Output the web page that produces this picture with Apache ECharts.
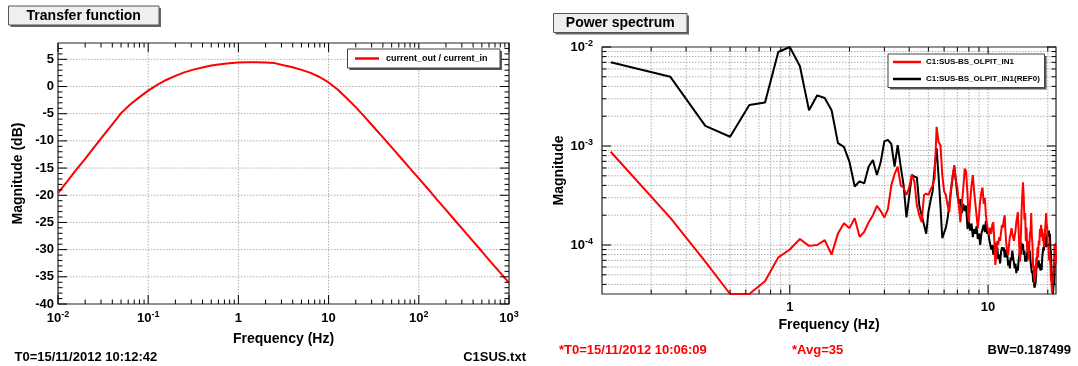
<!DOCTYPE html>
<html><head><meta charset="utf-8">
<script src="https://cdn.jsdelivr.net/npm/echarts@6/dist/echarts.min.js"></script>
<style>html,body{margin:0;padding:0;background:#fff}#c{width:1078px;height:366px}</style>
</head><body><div id="c"></div>
<script>
// ---------- Data ----------
const tfFreq = [0.01, 0.0126, 0.0158, 0.02, 0.0251, 0.0316, 0.0398, 0.0501, 0.0631, 0.0794,
 0.1, 0.126, 0.158, 0.2, 0.251, 0.316, 0.398, 0.501, 0.631, 0.794,
 1, 1.26, 1.58, 2, 2.51, 3.16, 3.98, 5.01, 6.31, 7.94,
 10, 12.6, 15.8, 20, 25.1, 31.6, 39.8, 50.1, 63.1, 79.4,
 100, 126, 158, 200, 251, 316, 398, 501, 631, 794, 1000];
const tfMag = [-19.6, -17.5, -15.4, -13.3, -11.2, -9.1, -7.0, -4.9, -3.3, -2.0,
 -0.75, 0.3, 1.2, 1.95, 2.6, 3.1, 3.5, 3.85, 4.1, 4.28,
 4.4, 4.45, 4.45, 4.4, 4.3, 3.9, 3.55, 3.05, 2.5, 1.75,
 0.75, -0.55, -2.1, -3.8, -5.6, -7.45, -9.3, -11.2, -13.1, -15.0,
 -16.9, -18.8, -20.75, -22.7, -24.6, -26.5, -28.45, -30.35, -32.3, -34.2, -36.1];

const binWidth = 0.125; // spectrum frequency resolution (Hz), bins start at 1*binWidth
const psdRed = [8.75e-4, 1.88e-4, 6.8e-5, 3.2e-5, 3.2e-5, 4.3e-5, 7.5e-5, 9.0e-5, 1.15e-4, 9.8e-5,
 1.0e-4, 1.12e-4, 8.0e-5, 1.31e-4, 1.66e-4, 1.48e-4, 1.86e-4, 1.21e-4, 1.36e-4, 1.7e-4,
 2.0e-4, 2.48e-4, 2.2e-4, 1.9e-4, 2.3e-4, 4.0e-4, 5.2e-4, 6.2e-4, 4.0e-4, 3.8e-4,
 3.2e-4, 3.8e-4, 5.1e-4, 4.4e-4, 2.5e-4, 2.0e-4, 1.7e-4, 3.2e-4, 3.3e-4, 3.2e-4,
 3.6e-4, 4.0e-4, 4.7e-4, 1.56e-3, 1.1e-3, 1.02e-3, 5.1e-4, 3.5e-4, 3.2e-4, 2.5e-4,
 2.15e-4, 3.8e-4, 5.0e-4, 6.4e-4, 4.5e-4, 3.8e-4, 2.5e-4, 1.7e-4, 2.6e-4, 3.8e-4,
 5.9e-4, 5.5e-4, 3.2e-4, 1.7e-4, 2.8e-4, 4.0e-4, 5.1e-4, 3.5e-4, 2.6e-4, 2.5e-4,
 1.48e-4, 2.0e-4, 2.8e-4, 3.4e-4, 3.8e-4, 2.6e-4, 3.0e-4, 2.0e-4, 1.6e-4, 1.4e-4,
 1.26e-4, 1.5e-4, 1.3e-4, 1.6e-4, 1.7e-4, 1.1e-4, 6.3e-5, 8.0e-5, 1.1e-4, 1.0e-4,
 1.2e-4, 1.1e-4, 1.35e-4, 1.6e-4, 1.5e-4, 1.8e-4, 2.0e-4, 1.3e-4, 1.0e-4, 8.5e-5,
 7.9e-5, 1.0e-4, 1.2e-4, 1.3e-4, 1.48e-4, 1.3e-4, 1.2e-4, 1.1e-4, 1.07e-4, 1.4e-4,
 1.7e-4, 1.9e-4, 2.15e-4, 1.4e-4, 9.0e-5, 6.8e-5, 1.2e-4, 2.2e-4, 3.2e-4, 4.3e-4,
 3.0e-4, 1.8e-4, 2.1e-4, 1.1e-4, 1.5e-4, 8.5e-5, 1.1e-4, 7.0e-5, 9.0e-5, 1.3e-4,
 1.4e-4, 2.1e-4, 1.2e-4, 1.0e-4, 5.8e-5, 6.2e-5, 4.2e-5, 4.8e-5, 5.2e-5, 7.5e-5,
 6.8e-5, 9.5e-5, 7.5e-5, 1.1e-4, 1.0e-4, 1.45e-4, 1.2e-4, 1.6e-4, 1.3e-4, 1.45e-4,
 1.1e-4, 1.3e-4, 9.5e-5, 1.15e-4, 1.1e-4, 1.7e-4, 2.1e-4, 1.6e-4, 1.5e-4, 9.5e-5,
 1.05e-4, 7.0e-5, 8.5e-5, 7.0e-5, 6.5e-5, 4.5e-5, 4.2e-5, 3.3e-5, 3.4e-5, 3.2e-5,
 5.5e-5, 6.5e-5, 1.0e-4, 9.0e-5, 1.05e-4, 6.5e-5];
const psdBlack = [7.0e-3, 5.0e-3, 1.6e-3, 1.24e-3, 2.6e-3, 2.75e-3, 8.9e-3, 1.0e-2, 6.4e-3, 2.3e-3,
 3.25e-3, 3.05e-3, 2.3e-3, 1.07e-3, 9.8e-4, 6.9e-4, 3.9e-4, 4.4e-4, 4.2e-4, 6.2e-4,
 7.2e-4, 5.1e-4, 6.9e-4, 1.12e-3, 1.15e-3, 1.05e-3, 6.2e-4, 1.02e-3, 6.2e-4, 4.0e-4,
 1.9e-4, 3.1e-4, 5.1e-4, 4.9e-4, 4.8e-4, 2.5e-4, 2.0e-4, 1.6e-4, 1.3e-4, 2.15e-4,
 2.8e-4, 3.5e-4, 6.0e-4, 9.5e-4, 5.0e-4, 2.5e-4, 1.17e-4, 1.12e-4, 1.5e-4, 1.86e-4,
 2.6e-4, 3.5e-4, 4.8e-4, 6.2e-4, 4.5e-4, 3.2e-4, 2.6e-4, 2.9e-4, 2.1e-4, 2.6e-4,
 2.2e-4, 2.5e-4, 1.45e-4, 1.7e-4, 1.4e-4, 1.65e-4, 1.2e-4, 1.45e-4, 1.3e-4, 1.55e-4,
 1.15e-4, 1.3e-4, 1.0e-4, 1.3e-4, 1.25e-4, 1.6e-4, 1.35e-4, 1.75e-4, 1.3e-4, 1.4e-4,
 1.15e-4, 1.2e-4, 9.0e-5, 1.0e-4, 8.0e-5, 9.5e-5, 1.05e-4, 9.0e-5, 9.5e-5, 7.2e-5,
 8.0e-5, 6.5e-5, 8.5e-5, 9.5e-5, 8.8e-5, 9.5e-5, 7.5e-5, 9.0e-5, 7.5e-5, 8.0e-5,
 6.2e-5, 7.0e-5, 5.8e-5, 7.5e-5, 7.0e-5, 8.8e-5, 7.5e-5, 7.8e-5, 5.8e-5, 6.5e-5,
 5.2e-5, 6.0e-5, 5.5e-5, 7.0e-5, 6.8e-5, 9.0e-5, 8.0e-5, 1.05e-4, 9.0e-5, 1.02e-4,
 8.0e-5, 8.8e-5, 6.8e-5, 7.5e-5, 6.8e-5, 8.5e-5, 7.5e-5, 9.2e-5, 7.8e-5, 8.8e-5,
 6.8e-5, 7.0e-5, 5.2e-5, 5.5e-5, 4.2e-5, 4.5e-5, 3.7e-5, 3.9e-5, 4.2e-5, 5.6e-5,
 5.5e-5, 7.0e-5, 6.2e-5, 7.0e-5, 5.8e-5, 6.5e-5, 5.5e-5, 6.3e-5, 5.6e-5, 7.5e-5,
 7.2e-5, 9.5e-5, 8.8e-5, 1.3e-4, 1.1e-4, 1.2e-4, 9.5e-5, 1.15e-4, 1.1e-4, 1.35e-4,
 1.2e-4, 1.4e-4, 1.2e-4, 1.3e-4, 9.0e-5, 8.5e-5, 5.5e-5, 5.0e-5, 3.5e-5, 3.2e-5,
 3.8e-5, 4.2e-5, 6.0e-5, 5.8e-5, 8.0e-5, 7.5e-5];

const tfName = 'current_out / current_in';
const redName = 'C1:SUS-BS_OLPIT_IN1';
const blackName = 'C1:SUS-BS_OLPIT_IN1(REF0)';
const leftTitle = 'Transfer function';
const rightTitle = 'Power spectrum';
const leftInfo = ['T0=15/11/2012 10:12:42', 'C1SUS.txt'];
const rightInfo = ['*T0=15/11/2012 10:06:09', '*Avg=35', 'BW=0.187499'];

// tick positions
const leftXDecades = [0.01, 0.1, 1, 10, 100, 1000];
const leftYMajor = [-40, -35, -30, -25, -20, -15, -10, -5, 0, 5];
const rightXDecades = [0.1, 1, 10];
const rightYDecades = [1e-5, 1e-4, 1e-3, 1e-2];
const minorMult = [2, 3, 4, 5, 6, 7, 8, 9];

const LX = [0.01, 1000], LY = [-40, 8];
const RX = [0.113, 22], RY = [3.2e-5, 1e-2];

// ---------- helpers ----------
const FONT = "'Liberation Sans', Arial, Helvetica, sans-serif";
function minors(decades, lo, hi) {
  const out = [];
  decades.forEach(d => minorMult.forEach(m => { const v = m * d; if (v > lo && v < hi) out.push(v); }));
  return out;
}
function inRange(arr, lo, hi) { return arr.filter(v => v >= lo && v <= hi); }

const lxMaj = inRange(leftXDecades, LX[0], LX[1]);
const lxMin = minors(leftXDecades, LX[0], LX[1]);
const lyMaj = leftYMajor;
const lyMin = []; for (let v = -39; v < 8; v++) if (v % 5 !== 0) lyMin.push(v);
const rxMaj = inRange(rightXDecades, RX[0], RX[1]);
const rxMin = minors(rightXDecades, RX[0], RX[1]);
const ryMaj = inRange(rightYDecades, RY[0], RY[1]);
const ryMin = minors(rightYDecades, RY[0], RY[1]);

function xTicks(gi, maj, min, yRef) {
  const data = maj.map(v => [v, yRef, 9]).concat(min.map(v => [v, yRef, 4.5]));
  return { type: 'custom', xAxisIndex: gi, yAxisIndex: gi, silent: true, z: 6, clip: false, animation: false,
    data: data, encode: { x: 0, y: 1 },
    renderItem: function (params, api) {
      const cs = params.coordSys; const len = api.value(2);
      const px = api.coord([api.value(0), api.value(1)])[0];
      const b = cs.y + cs.height;
      const st = { stroke: '#000', lineWidth: 1 };
      return { type: 'group', children: [
        { type: 'line', shape: { x1: px, y1: b, x2: px, y2: b - len }, style: st },
        { type: 'line', shape: { x1: px, y1: cs.y, x2: px, y2: cs.y + len }, style: st } ] };
    } };
}
function yTicks(gi, maj, min, xRef) {
  const data = maj.map(v => [xRef, v, 9]).concat(min.map(v => [xRef, v, 4.5]));
  return { type: 'custom', xAxisIndex: gi, yAxisIndex: gi, silent: true, z: 6, clip: false, animation: false,
    data: data, encode: { x: 0, y: 1 },
    renderItem: function (params, api) {
      const cs = params.coordSys; const len = api.value(2);
      const py = api.coord([api.value(0), api.value(1)])[1];
      const r = cs.x + cs.width;
      const st = { stroke: '#000', lineWidth: 1 };
      return { type: 'group', children: [
        { type: 'line', shape: { x1: cs.x, y1: py, x2: cs.x + len, y2: py }, style: st },
        { type: 'line', shape: { x1: r, y1: py, x2: r - len, y2: py }, style: st } ] };
    } };
}
function gridLines(gi, xs, ys, xRef, yRef) {
  const data = xs.map(v => [v, yRef, 0]).concat(ys.map(v => [xRef, v, 1]));
  return { type: 'custom', xAxisIndex: gi, yAxisIndex: gi, silent: true, z: 1, clip: false, animation: false,
    data: data, encode: { x: 0, y: 1 },
    renderItem: function (params, api) {
      const cs = params.coordSys;
      const p = api.coord([api.value(0), api.value(1)]);
      const st = { stroke: '#9a9a9a', lineWidth: 0.8, lineDash: [1.5, 1.5] };
      if (api.value(2) === 0) return { type: 'line', shape: { x1: p[0], y1: cs.y, x2: p[0], y2: cs.y + cs.height }, style: st };
      return { type: 'line', shape: { x1: cs.x, y1: p[1], x2: cs.x + cs.width, y2: p[1] }, style: st };
    } };
}
function powLabel(v) {
  const l = Math.log10(v); const e = Math.round(l);
  if (Math.abs(l - e) > 1e-6) return '';
  if (e === 0) return '{b|1}';
  if (e === 1) return '{b|10}';
  return '{b|10}{s|' + e + '}';
}
const rich = {
  b: { fontSize: 13, fontWeight: 'bold', fontFamily: FONT, color: '#000', lineHeight: 16 },
  s: { fontSize: 9, fontWeight: 'bold', fontFamily: FONT, color: '#000', lineHeight: 10, verticalAlign: 'top' }
};
const nameStyle = { fontSize: 14, fontWeight: 'bold', color: '#000', fontFamily: FONT };

function titleBox(x, y, w, h, text) {
  return [
    { type: 'rect', shape: { x: x + 2, y: y + 2, width: w, height: h }, style: { fill: '#666' }, z: 10 },
    { type: 'rect', shape: { x: x, y: y, width: w, height: h }, style: { fill: '#efefef', stroke: '#555', lineWidth: 1 }, z: 11 },
    { type: 'text', x: x + w / 2, y: y + h / 2 + 0.5, z: 12,
      style: { text: text, font: 'bold 14px ' + FONT, fill: '#000', textAlign: 'center', textVerticalAlign: 'middle', align: 'center', verticalAlign: 'middle' } }
  ];
}
function legendBox(x, y, w, h) {
  return [
    { type: 'rect', shape: { x: x + 2, y: y + 2, width: w, height: h }, style: { fill: '#555' }, z: 10 },
    { type: 'rect', shape: { x: x, y: y, width: w, height: h }, style: { fill: '#fff', stroke: '#444', lineWidth: 1 }, z: 11 }
  ];
}
function info(x, y, text, color, align) {
  return { type: 'text', x: x, y: y, z: 12,
    style: { text: text, font: 'bold 13px ' + FONT, fill: color, textAlign: align, textVerticalAlign: 'middle', align: align, verticalAlign: 'middle' } };
}

const chart = echarts.init(document.getElementById('c'), null, { renderer: 'canvas' });
chart.setOption({
  animation: false,
  backgroundColor: '#fff',
  grid: [
    { left: 58, top: 43, right: 569, bottom: 62, show: true, borderColor: '#222', borderWidth: 1.2, backgroundColor: 'transparent' },
    { left: 602, top: 47, right: 22, bottom: 72, show: true, borderColor: '#222', borderWidth: 1.2, backgroundColor: 'transparent' }
  ],
  xAxis: [
    { gridIndex: 0, type: 'log', logBase: 10, min: LX[0], max: LX[1],
      axisLine: { show: false }, axisTick: { show: false }, splitLine: { show: false },
      axisLabel: { formatter: powLabel, rich: rich, margin: 6 },
      name: 'Frequency (Hz)', nameLocation: 'middle', nameGap: 28, nameTextStyle: nameStyle },
    { gridIndex: 1, type: 'log', logBase: 10, min: RX[0], max: RX[1],
      axisLine: { show: false }, axisTick: { show: false }, splitLine: { show: false },
      axisLabel: { formatter: powLabel, rich: rich, margin: 5 },
      name: 'Frequency (Hz)', nameLocation: 'middle', nameGap: 22, nameTextStyle: nameStyle }
  ],
  yAxis: [
    { gridIndex: 0, type: 'value', min: LY[0], max: LY[1], interval: 5,
      axisLine: { show: false }, axisTick: { show: false }, splitLine: { show: false },
      axisLabel: { fontSize: 13, fontWeight: 'bold', color: '#000', fontFamily: FONT, margin: 4, showMaxLabel: false },
      name: 'Magnitude (dB)', nameLocation: 'middle', nameGap: 33, nameTextStyle: nameStyle },
    { gridIndex: 1, type: 'log', logBase: 10, min: RY[0], max: RY[1],
      axisLine: { show: false }, axisTick: { show: false }, splitLine: { show: false },
      axisLabel: { formatter: powLabel, rich: rich, margin: 9 },
      name: 'Magnitude', nameLocation: 'middle', nameGap: 31, nameTextStyle: nameStyle }
  ],
  legend: [
    { data: [tfName], left: 355, top: 53, padding: 0, icon: 'rect', itemWidth: 24, itemHeight: 2.5,
      selectedMode: false, z: 20,
      textStyle: { fontSize: 9, fontWeight: 'bold', color: '#000', fontFamily: FONT, lineHeight: 11, padding: [0, 0, 0, 2] } },
    { data: [redName, blackName], orient: 'vertical', left: 893, top: 57, padding: 0, icon: 'rect',
      itemWidth: 28, itemHeight: 2.5, itemGap: 7, selectedMode: false, z: 20,
      textStyle: { fontSize: 8, fontWeight: 'bold', color: '#000', fontFamily: FONT, lineHeight: 10 } }
  ],
  series: [
    gridLines(0, [0.1, 1, 10, 100], [-35, -30, -25, -20, -15, -10, -5, 0, 5], 1, 0),
    gridLines(1, rxMaj.concat(rxMin), ryMaj.concat(ryMin), 1, 1e-3),
    { name: tfName, type: 'line', xAxisIndex: 0, yAxisIndex: 0, z: 3,
      data: tfFreq.map((f, i) => [f, tfMag[i]]), symbol: 'none', showSymbol: false, smooth: false,
      lineStyle: { color: '#ff0000', width: 2 }, itemStyle: { color: '#ff0000' } },
    { name: blackName, type: 'line', xAxisIndex: 1, yAxisIndex: 1, z: 3,
      data: psdBlack.map((v, i) => [(i + 1) * binWidth, v]), symbol: 'none', showSymbol: false,
      lineStyle: { color: '#000', width: 2 }, itemStyle: { color: '#000' } },
    { name: redName, type: 'line', xAxisIndex: 1, yAxisIndex: 1, z: 4,
      data: psdRed.map((v, i) => [(i + 1) * binWidth, v]), symbol: 'none', showSymbol: false,
      lineStyle: { color: '#ff0000', width: 2 }, itemStyle: { color: '#ff0000' } },
    xTicks(0, lxMaj, lxMin, 0),
    yTicks(0, lyMaj, lyMin, 1),
    xTicks(1, rxMaj, rxMin, 1e-3),
    yTicks(1, ryMaj, ryMin, 1)
  ],
  graphic: [].concat(
    titleBox(8.5, 6, 150.5, 19, leftTitle),
    titleBox(553.5, 13.5, 133.5, 19, rightTitle),
    legendBox(347.5, 49, 152.5, 19),
    legendBox(888, 54, 156.5, 33.5),
    [ info(14.5, 357, leftInfo[0], '#000', 'left'),
      info(526, 357, leftInfo[1], '#000', 'right'),
      info(559, 350, rightInfo[0], '#ff0000', 'left'),
      info(792, 350, rightInfo[1], '#ff0000', 'left'),
      info(1071, 350, rightInfo[2], '#000', 'right') ]
  )
});
</script></body></html>
